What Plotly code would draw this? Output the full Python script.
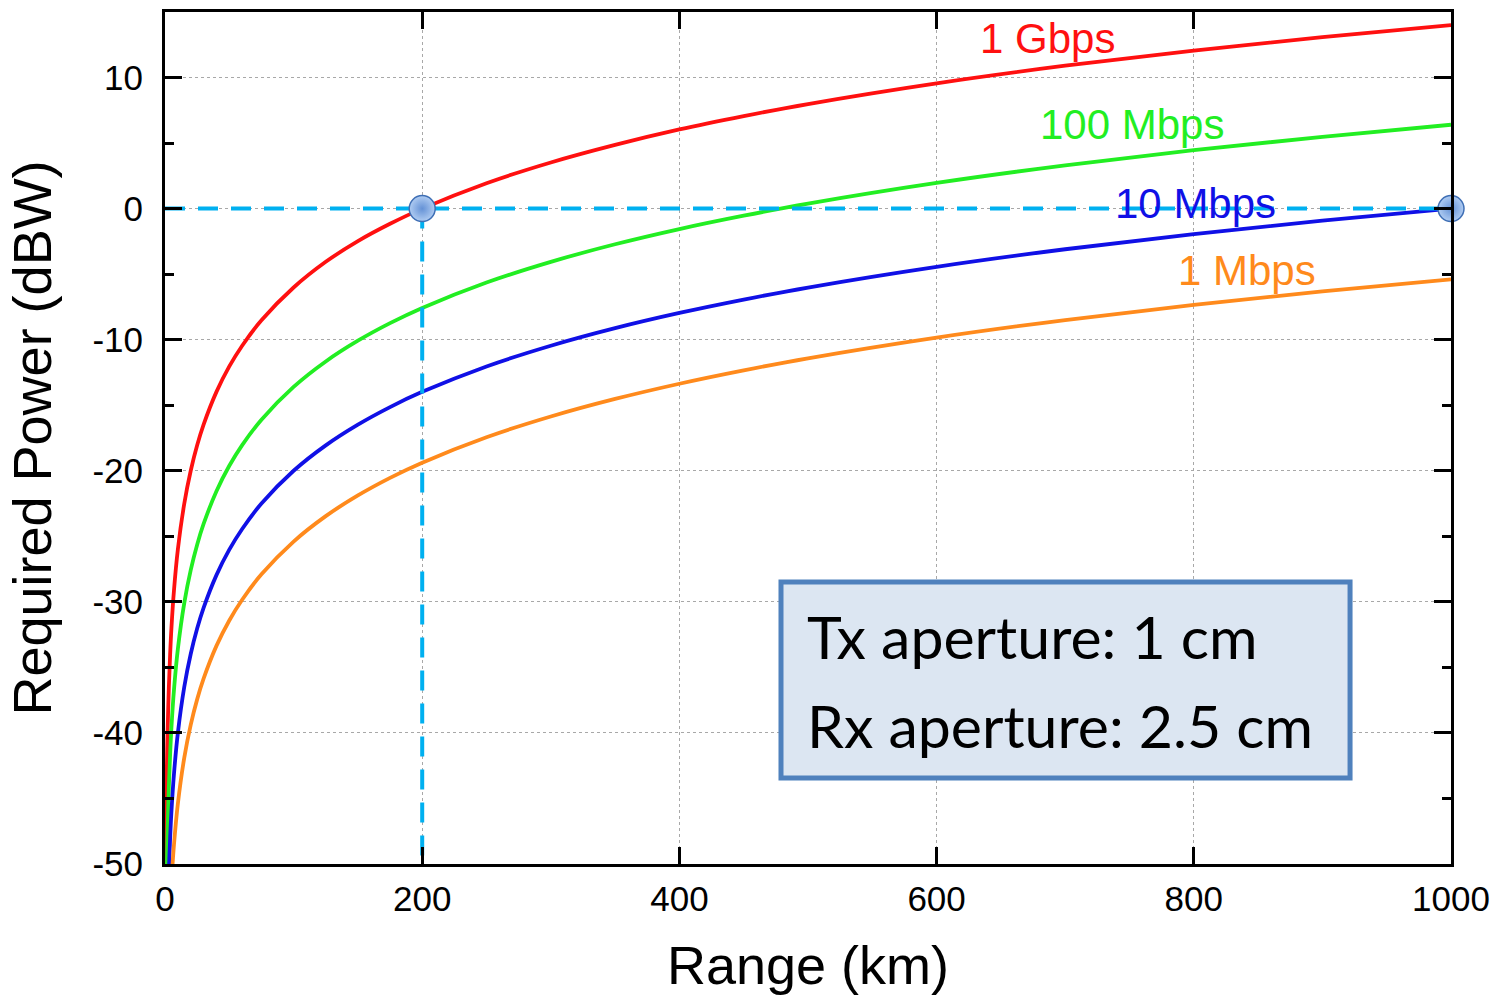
import plotly.graph_objects as go

# Range (km) sample points
range_red = [0.6, 1, 1.5, 2, 3, 4, 5, 7, 10, 15, 20, 25, 30, 40, 50, 60, 75, 100, 125, 150, 175, 200, 250, 300, 350, 400, 450, 500, 600, 700, 800, 900, 1000]
power_red = [-50.4, -46.0, -42.5, -40.0, -36.5, -34.0, -32.0, -29.1, -26.0, -22.5, -20.0, -18.06, -16.48, -13.98, -12.04, -10.46, -8.52, -6.02, -4.06, -2.48, -1.16, 0.0, 1.94, 3.52, 4.86, 6.04, 7.06, 7.98, 9.56, 10.9, 12.06, 13.08, 14.0]

range_green = [1.5, 2, 3, 4, 5, 7, 10, 15, 20, 25, 30, 40, 50, 60, 75, 100, 125, 150, 175, 200, 250, 300, 350, 400, 450, 500, 600, 700, 800, 900, 1000]
power_green = [-50.1, -47.6, -44.1, -41.6, -39.6, -36.7, -33.6, -30.08, -27.58, -25.64, -24.06, -21.56, -19.62, -18.04, -16.1, -13.6, -11.66, -10.08, -8.74, -7.58, -5.64, -4.06, -2.72, -1.56, -0.54, 0.38, 1.96, 3.3, 4.46, 5.48, 6.4]

range_blue = [3, 4, 5, 7, 10, 15, 20, 25, 30, 40, 50, 60, 75, 100, 125, 150, 175, 200, 250, 300, 350, 400, 450, 500, 600, 700, 800, 900, 1000]
power_blue = [-50.5, -48.0, -46.0, -43.1, -40.0, -36.48, -33.98, -32.04, -30.46, -27.96, -26.02, -24.44, -22.5, -20.0, -18.06, -16.48, -15.14, -13.98, -12.04, -10.46, -9.12, -7.96, -6.94, -6.02, -4.44, -3.1, -1.94, -0.92, 0.0]

range_orange = [5.5, 7, 10, 15, 20, 25, 30, 40, 50, 60, 75, 100, 125, 150, 175, 200, 250, 300, 350, 400, 450, 500, 600, 700, 800, 900, 1000]
power_orange = [-50.6, -48.5, -45.4, -41.88, -39.38, -37.44, -35.86, -33.36, -31.42, -29.84, -27.9, -25.4, -23.46, -21.88, -20.54, -19.38, -17.44, -15.86, -14.52, -13.36, -12.34, -11.42, -9.84, -8.5, -7.34, -6.32, -5.4]

series_names = ["1 Gbps", "100 Mbps", "10 Mbps", "1 Mbps"]
series_colors = ["#ff1010", "#22ee22", "#1010e6", "#ff8a1c"]
label_x = [686, 752, 801, 841]
label_y = [12.95, 6.4, 0.38, -4.7]

# reference points (Range, Power)
ref_x = [200, 1000]
ref_y = [0, 0]
hline_x = [0, 1000]
hline_y = [0, 0]
vline_x = [200, 200]
vline_y = [0, -50]

x_ticks = [0, 200, 400, 600, 800, 1000]
x_ticktext = ["0", "200", "400", "600", "800", "1000"]
y_ticks = [10, 0, -10, -20, -30, -40, -50]
y_ticktext = ["10", "0", "-10", "-20", "-30", "-40", "-50"]
y_minor = [-45, -35, -25, -15, -5, 5, 15]

box_lines = ["Tx aperture: 1 cm", "Rx aperture: 2.5 cm"]

fig = go.Figure()
for rx, py, name, col in zip([range_red, range_green, range_blue, range_orange],
                             [power_red, power_green, power_blue, power_orange],
                             series_names, series_colors):
    fig.add_trace(go.Scatter(x=rx, y=py, mode="lines", name=name,
                             line=dict(color=col, width=3.8, shape="spline", smoothing=1.0)))

dash_col = "#00b0f0"
fig.add_trace(go.Scatter(x=hline_x, y=hline_y, mode="lines",
                         line=dict(color=dash_col, width=4, dash="20px,13px")))
fig.add_trace(go.Scatter(x=vline_x, y=vline_y, mode="lines",
                         line=dict(color=dash_col, width=4, dash="20px,13px")))
fig.add_trace(go.Scatter(x=ref_x, y=ref_y, mode="markers", cliponaxis=False,
                         marker=dict(size=26, color="#b0ccf2",
                                     gradient=dict(type="radial", color="#6592d6"),
                                     line=dict(color="#3f6fb5", width=1.5))))

for name, col, lx, ly in zip(series_names, series_colors, label_x, label_y):
    fig.add_annotation(x=lx, y=ly, text=name, showarrow=False,
                       font=dict(family="Liberation Sans, Arial", size=42, color=col))

fig.add_shape(type="rect", xref="paper", yref="paper", x0=0.479, x1=0.9215, y0=0.101, y1=0.331,
              fillcolor="#dce6f2", line=dict(color="#4f81bd", width=5), layer="above")
for txt, yy in zip(box_lines, [0.2676, 0.162]):
    fig.add_annotation(xref="paper", yref="paper", x=0.4977, y=yy, text=txt, showarrow=False,
                       xanchor="left", yanchor="middle",
                       font=dict(family="Lato", size=59, color="black"))

axis_common = dict(showline=True, linecolor="black", linewidth=3, mirror="ticks",
                   ticks="inside", ticklen=17, tickwidth=2.5, tickcolor="black",
                   showgrid=True, gridcolor="#a8a8a8", griddash="dot", gridwidth=1.2,
                   zeroline=False, automargin=False,
                   tickfont=dict(family="Liberation Sans, Arial", size=35, color="black"))

fig.update_xaxes(range=[0, 1000], tickvals=x_ticks, ticktext=x_ticktext, ticklabelstandoff=2,
                 title=dict(text="Range (km)", standoff=30,
                            font=dict(family="Liberation Sans, Arial", size=54, color="black")),
                 **axis_common)
fig.update_yaxes(range=[-50, 15], tickvals=y_ticks, ticktext=y_ticktext, ticklabelstandoff=12,
                 minor=dict(tickvals=y_minor, ticks="inside", ticklen=9,
                            tickwidth=2.5, tickcolor="black", showgrid=False),
                 title=dict(text="Required Power (dBW)", standoff=24,
                            font=dict(family="Liberation Sans, Arial", size=54, color="black")),
                 **axis_common)

fig.update_layout(width=1495, height=1000, showlegend=False,
                  plot_bgcolor="white", paper_bgcolor="white",
                  margin=dict(l=165, r=44, t=12, b=136))

fig.write_html("out.html", config={"displayModeBar": False},
               post_script="document.body.style.margin='0px';document.body.style.overflow='hidden';"
                           "document.documentElement.style.overflow='hidden';")
